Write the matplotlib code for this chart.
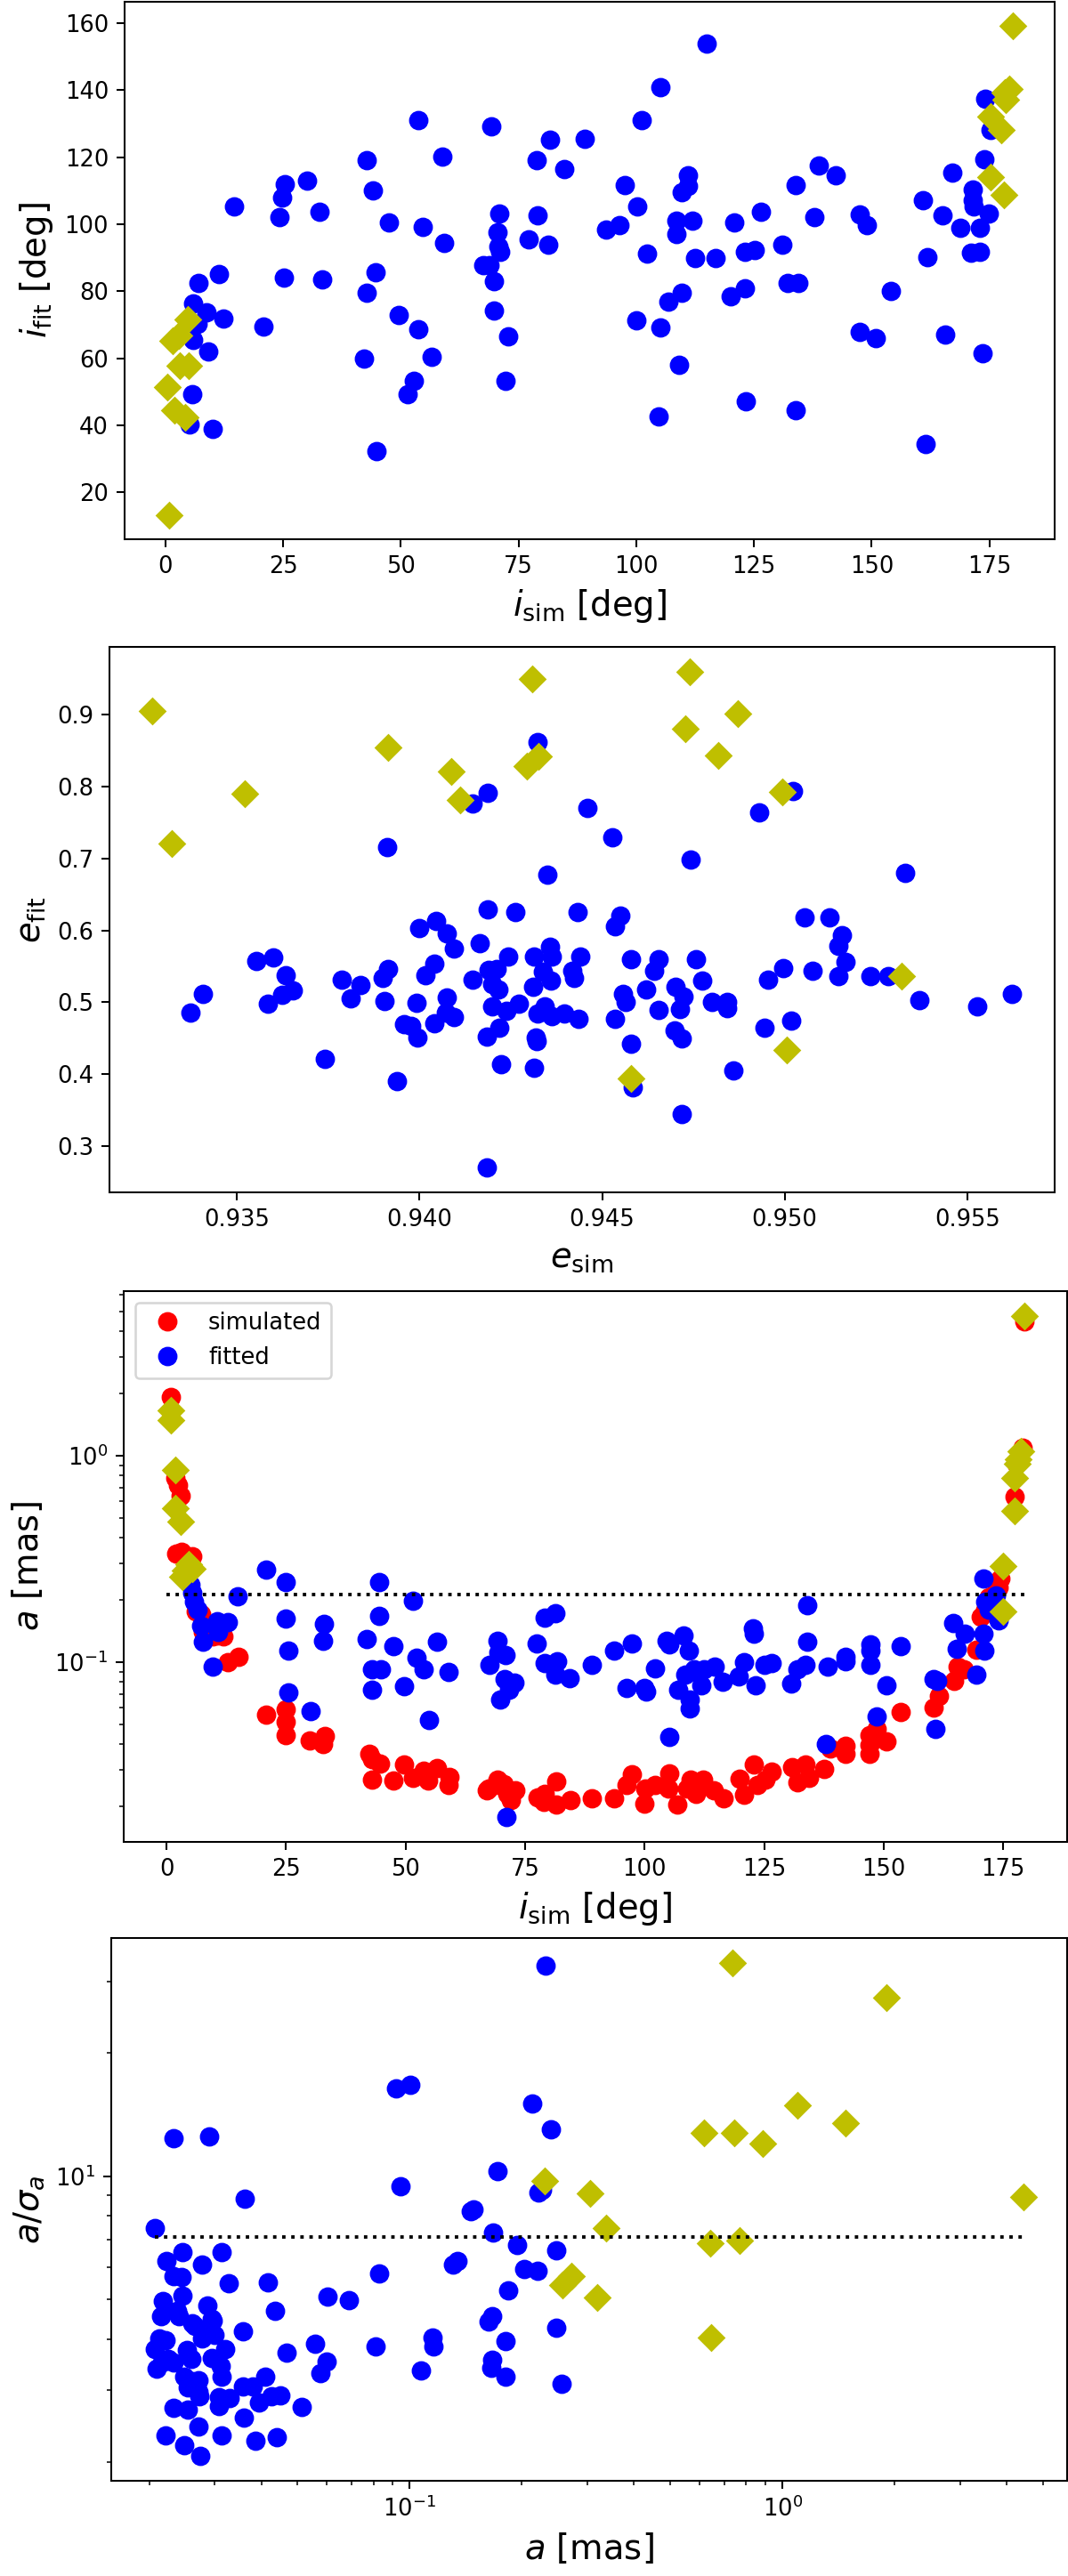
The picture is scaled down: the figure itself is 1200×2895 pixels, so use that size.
import numpy as np
import matplotlib.pyplot as plt

# ─── Panel 1: inclination, fitted vs simulated ─────────────────────────
inc_sim_ok = [114.9, 105.1, 174.1, 53.7, 101.1, 69.2, 81.7, 89.1, 175.2, 58.8,
              42.7, 78.8, 174.0, 84.7, 138.7, 142.4, 167.2, 111.0, 25.3, 30.0,
              97.5, 133.9, 111.0, 109.6, 171.5, 44.1, 24.8, 160.9, 171.4, 14.5,
              100.3, 32.8, 71.0, 126.5, 147.4, 174.9, 165.0, 24.2, 79.1, 137.9,
              47.4, 112.0, 108.5, 120.9, 148.9, 54.7, 96.5, 93.6, 168.9, 173.0,
              171.7, 70.5, 108.5, 59.1, 77.2, 81.3, 131.0, 70.8, 71.1, 102.2,
              123.1, 125.2, 171.2, 173.0, 112.5, 116.8, 161.9, 67.5, 68.9, 44.6,
              11.3, 25.1, 33.2, 7.0, 69.8, 132.1, 134.4, 123.1, 42.7, 109.6,
              154.0, 120.0, 106.8, 5.8, 8.7, 69.8, 6.8, 12.3, 49.6, 100.0,
              20.8, 105.1, 53.7, 72.8, 147.4, 150.8, 165.7, 5.9, 9.1, 173.6,
              42.1, 56.6, 109.1, 52.7, 72.3, 51.5, 5.7, 123.3, 133.9, 104.8,
              5.1, 10.0, 161.5, 44.8]
inc_fit_ok = [153.9, 141.0, 137.4, 131.2, 131.2, 129.3, 125.2, 125.6, 128.1, 120.1,
              119.0, 119.0, 119.4, 116.6, 117.5, 114.6, 115.5, 114.5, 112.0, 113.0,
              111.8, 111.8, 111.3, 109.5, 110.4, 110.2, 108.1, 107.3, 107.3, 105.2,
              105.2, 103.8, 103.1, 103.8, 103.0, 103.2, 102.7, 102.1, 102.7, 102.1,
              100.5, 101.0, 101.0, 100.5, 99.7, 99.2, 99.7, 98.4, 99.0, 99.0,
              105.2, 97.6, 97.0, 94.4, 95.4, 94.0, 93.9, 93.5, 91.8, 91.3,
              91.8, 92.4, 91.5, 91.8, 89.9, 89.9, 90.2, 87.9, 87.9, 85.7,
              85.2, 84.1, 83.6, 82.6, 83.0, 82.6, 82.6, 80.9, 79.5, 79.5,
              80.1, 78.6, 76.8, 76.3, 73.8, 74.3, 70.3, 71.8, 72.9, 71.3,
              69.4, 69.2, 68.7, 66.6, 67.8, 66.1, 67.2, 65.6, 62.0, 61.6,
              60.0, 60.4, 58.1, 53.4, 53.3, 49.2, 49.2, 47.2, 44.6, 42.6,
              40.3, 39.0, 34.4, 32.4]
inc_sim_bad = [179.9, 179.3, 178.3, 178.5, 175.2, 177.6, 175.2, 178.1,
               1.5, 2.9, 4.8, 3.0, 4.9, 0.3, 2.0, 4.2, 0.7]
inc_fit_bad = [159.1, 140.4, 139.2, 137.2, 132.1, 128.1, 114.0, 108.7,
               65.3, 66.9, 71.6, 57.7, 57.7, 51.3, 44.4, 42.4, 13.3]

# ─── Panel 2: eccentricity, fitted vs simulated ────────────────────────
ecc_sim_ok = [0.94323, 0.94187, 0.94144, 0.94460, 0.95023, 0.94929, 0.94527, 0.93910,
              0.94742, 0.94351, 0.95330, 0.94187, 0.94262, 0.94432, 0.94550, 0.94046,
              0.95055, 0.95124, 0.93998, 0.94535, 0.94074, 0.95158, 0.94164, 0.95148,
              0.94093, 0.94357, 0.94363, 0.94243, 0.94441, 0.94314, 0.94578, 0.94654,
              0.94757, 0.93552, 0.93599, 0.93914, 0.95167, 0.94997, 0.95077, 0.94211,
              0.94190, 0.94419, 0.94338, 0.94643, 0.94015, 0.94041, 0.93633, 0.95234,
              0.95283, 0.95148, 0.93900, 0.93786, 0.93839, 0.94144, 0.94424, 0.94954,
              0.94774, 0.94359, 0.94312, 0.94198, 0.94215, 0.94701, 0.94621, 0.93652,
              0.93407, 0.93624, 0.93811, 0.94722, 0.94557, 0.94074, 0.93904, 0.93992,
              0.93584, 0.94273, 0.94198, 0.94565, 0.94800, 0.94843, 0.95369, 0.95528,
              0.95622, 0.94342, 0.94843, 0.94714, 0.94654, 0.93373, 0.94237, 0.94396,
              0.94323, 0.94363, 0.94071, 0.94095, 0.94436, 0.94535, 0.95019, 0.94041,
              0.93957, 0.93977, 0.94218, 0.94944, 0.94699, 0.93994, 0.94183, 0.94718,
              0.94318, 0.94321, 0.94578, 0.93740, 0.94224, 0.94314, 0.94860, 0.93938,
              0.94583, 0.94718, 0.94185]
ecc_fit_ok = [0.862, 0.792, 0.777, 0.771, 0.794, 0.764, 0.730, 0.716,
              0.699, 0.677, 0.680, 0.629, 0.625, 0.625, 0.621, 0.613,
              0.618, 0.618, 0.603, 0.606, 0.596, 0.593, 0.582, 0.579,
              0.575, 0.577, 0.564, 0.563, 0.563, 0.563, 0.560, 0.560,
              0.560, 0.558, 0.562, 0.546, 0.556, 0.547, 0.544, 0.546,
              0.545, 0.544, 0.542, 0.544, 0.538, 0.554, 0.538, 0.536,
              0.536, 0.536, 0.534, 0.531, 0.524, 0.531, 0.534, 0.532,
              0.530, 0.530, 0.521, 0.525, 0.518, 0.522, 0.518, 0.517,
              0.512, 0.510, 0.505, 0.508, 0.511, 0.507, 0.502, 0.499,
              0.498, 0.498, 0.494, 0.501, 0.501, 0.501, 0.503, 0.494,
              0.511, 0.494, 0.492, 0.490, 0.489, 0.486, 0.488, 0.484,
              0.484, 0.481, 0.485, 0.479, 0.477, 0.477, 0.474, 0.471,
              0.470, 0.467, 0.464, 0.465, 0.461, 0.451, 0.452, 0.450,
              0.451, 0.446, 0.442, 0.421, 0.414, 0.409, 0.405, 0.390,
              0.381, 0.345, 0.270]
ecc_sim_bad = [0.93268, 0.93320, 0.93522, 0.93913, 0.94086, 0.94110, 0.94308, 0.94293,
               0.94325, 0.94740, 0.94727, 0.94871, 0.94819, 0.94993, 0.95006, 0.95320,
               0.94578]
ecc_fit_bad = [0.905, 0.721, 0.790, 0.854, 0.821, 0.781, 0.950, 0.829,
               0.842, 0.960, 0.881, 0.902, 0.843, 0.793, 0.434, 0.536,
               0.394]

# ─── Panel 3: semi-major axis vs simulated inclination ─────────────────
sim_inc = [0.9, 1.9, 2.3, 2.9, 2.1, 3.2, 5.4, 4.5, 6.2, 7.3, 7.6, 9.6, 10.5, 11.8, 12.8, 15.0,
           20.8, 25.0, 25.0, 24.9, 30.0, 32.8, 33.1, 42.4, 43.0, 44.7, 43.0, 47.4,
           49.7, 51.5, 53.7, 54.7, 56.6, 58.9, 59.1, 67.4, 67.0, 69.2, 69.6, 70.5,
           72.1, 72.9, 71.2, 77.6, 78.9, 79.1, 81.6, 81.6, 84.4, 88.9,
           93.7, 96.3, 97.3, 100.0, 100.1, 102.2, 105.2, 104.9, 106.8, 108.8,
           109.6, 110.8, 112.2, 114.5, 116.5, 119.9, 120.7, 122.9, 123.5, 125.2,
           126.6, 130.8, 132.0, 133.6, 134.3, 137.6, 138.9, 142.1, 142.1, 147.1,
           147.1, 147.1, 148.6, 150.6, 153.5, 160.5, 161.5, 164.7, 165.4, 166.7,
           169.4, 170.4, 171.3, 172.0, 174.1, 174.4, 173.5, 177.4, 177.8, 179.0,
           179.4]
sim_a = [1.92, 0.78, 0.72, 0.64, 0.337, 0.341, 0.326, 0.30, 0.176, 0.171, 0.140, 0.133,
         0.135, 0.133, 0.100, 0.106,
         0.0556, 0.0590, 0.0512, 0.0445, 0.0416, 0.0402, 0.0437, 0.0358, 0.0338, 0.0324,
         0.0270, 0.0266, 0.0319, 0.0275, 0.0299, 0.0266, 0.0308, 0.0253, 0.0279, 0.0244,
         0.0240, 0.0270, 0.0253, 0.0257, 0.0214, 0.0240, 0.0229, 0.0221, 0.0210, 0.0229,
         0.0265, 0.0204, 0.0214, 0.0220,
         0.0220, 0.0253, 0.0287, 0.0207, 0.0244, 0.0253, 0.0290, 0.0244, 0.0204, 0.0244,
         0.0270, 0.0229, 0.0270, 0.0240, 0.0218, 0.0272, 0.0227, 0.0319, 0.0253, 0.0270,
         0.0294, 0.0309, 0.0261, 0.0319, 0.0275, 0.0305, 0.0383, 0.0392, 0.0358, 0.0445,
         0.0358, 0.0396, 0.0475, 0.0412, 0.0574, 0.0600, 0.0684, 0.0809, 0.0955, 0.0923,
         0.1146, 0.165, 0.180, 0.206, 0.231, 0.253, 0.240, 0.633, 0.912, 1.096,
         4.49]

fit_inc = [5.0, 5.4, 5.7, 6.4, 7.2, 7.6, 9.6, 10.5, 10.7, 12.9, 14.8, 20.8, 24.9, 24.9,
           25.4, 25.4, 30.1, 33.0, 32.7, 41.9, 43.0, 43.0, 44.4, 44.4, 44.9, 47.4,
           49.7, 51.5, 52.3, 53.7, 54.8, 56.6, 58.9, 67.5, 69.2, 69.5, 69.8, 70.9,
           70.7, 71.7, 72.7, 71.1, 77.4, 79.1, 81.3, 79.1, 81.7, 81.4, 84.3, 88.9,
           93.6, 97.3, 96.3, 99.9, 100.3, 102.2, 104.6, 105.1, 105.1, 107.1, 108.2,
           109.2, 108.5, 109.4, 109.4, 110.4, 111.2, 111.8, 112.5, 114.7, 116.4,
           119.7, 120.7, 122.6, 122.8, 123.3, 125.0, 126.6, 130.7, 131.9, 133.7,
           134.0, 134.0, 137.9, 138.3, 142.0, 142.0, 147.2, 147.2, 147.2, 148.6,
           150.6, 153.5, 160.5, 161.2, 160.8, 164.5, 165.3, 167.0, 169.4, 170.9,
           171.3, 170.9, 171.0, 173.5, 174.1, 172.0]
fit_a = [0.236, 0.216, 0.197, 0.179, 0.150, 0.125, 0.0947, 0.158, 0.140, 0.156, 0.208,
         0.280, 0.244, 0.162, 0.114, 0.071, 0.0577, 0.153, 0.127, 0.130, 0.0925,
         0.0736, 0.244, 0.168, 0.0925, 0.120, 0.0763, 0.199, 0.105, 0.0925, 0.0522,
         0.125, 0.0896, 0.0969, 0.127, 0.111, 0.0656, 0.108, 0.0825, 0.0736, 0.0796,
         0.0178, 0.123, 0.164, 0.172, 0.0991, 0.101, 0.0871, 0.0832, 0.0969,
         0.114, 0.123, 0.0753, 0.0753, 0.0719, 0.0933, 0.127, 0.122, 0.0435, 0.0736,
         0.135, 0.114, 0.0871, 0.0656, 0.0599, 0.0925, 0.0885, 0.0770, 0.0925,
         0.0947, 0.0806, 0.0852, 0.100, 0.146, 0.137, 0.0770, 0.0969, 0.0991,
         0.0788, 0.0925, 0.0969, 0.188, 0.125, 0.0400, 0.0947, 0.106, 0.101,
         0.122, 0.114, 0.0969, 0.0547, 0.0770, 0.119, 0.0825, 0.0810, 0.0476,
         0.155, 0.116, 0.137, 0.0871, 0.253, 0.197, 0.137, 0.114, 0.211, 0.160,
         0.179]

flag_inc = [0.9, 0.9, 1.9, 1.9, 2.9, 3.3, 4.7, 3.9, 5.3,
            179.4, 178.7, 178.2, 178.0, 177.4, 177.4, 174.9, 174.9]
flag_a = [1.65, 1.48, 0.852, 0.557, 0.481, 0.259, 0.297, 0.277, 0.284,
          4.74, 1.05, 0.96, 0.913, 0.778, 0.539, 0.293, 0.176]

A_LIMIT = 0.213

# ─── Panel 4: significance a/sigma_a vs a ─────────────────────────────
a_ok = [0.0207, 0.0246, 0.0223, 0.0278, 0.0313, 0.0232, 0.0245, 0.0327, 0.0416, 0.0246,
        0.0218, 0.0287, 0.0295, 0.0215, 0.0240, 0.0266, 0.0284, 0.0300, 0.0277, 0.0357,
        0.0435, 0.0601, 0.0686, 0.0826, 0.1344, 0.1310, 0.1487, 0.1460, 0.167, 0.0221,
        0.0207, 0.0252, 0.0260, 0.0217, 0.0232, 0.0209, 0.0320, 0.0295, 0.0312, 0.0313,
        0.0249, 0.0271, 0.0254, 0.0273, 0.0357, 0.0379, 0.0410, 0.0395, 0.0425, 0.0450,
        0.0329, 0.0307, 0.0512, 0.0467, 0.0559, 0.0598, 0.0577, 0.081, 0.1149, 0.116,
        0.1074, 0.0232, 0.0254, 0.0271, 0.0360, 0.0221, 0.0249, 0.0275, 0.0313, 0.0385,
        0.0439, 0.163, 0.166, 0.0361, 0.0238, 0.0261, 0.0297, 0.0213, 0.0225, 0.0261,
        0.0271, 0.0308,
        0.2318, 0.0919, 0.1004, 0.213, 0.2387, 0.0232, 0.029, 0.172, 0.0943, 0.222,
        0.227, 0.194, 0.247, 0.2025, 0.2204, 0.1837, 0.1667, 0.247, 0.1806, 0.1667,
        0.1806, 0.2555]
snr_ok = [7.49, 6.53, 6.21, 6.09, 6.52, 5.69, 5.67, 5.48, 5.50, 5.10,
          4.95, 4.83, 4.48, 4.55, 4.55, 4.30, 4.23, 4.09, 4.02, 4.17,
          4.69, 5.08, 4.98, 5.78, 6.21, 6.08, 8.32, 8.20, 7.28, 3.98,
          3.79, 3.76, 3.57, 3.51, 3.51, 3.39, 3.79, 3.60, 3.43, 3.24,
          3.23, 3.18, 3.05, 2.90, 3.07, 3.07, 3.24, 2.80, 2.90, 2.92,
          2.87, 2.74, 2.73, 3.71, 3.90, 3.53, 3.31, 3.83, 4.04, 3.84,
          3.36, 2.71, 2.69, 2.45, 2.57, 2.33, 2.20, 2.07, 2.33, 2.26,
          2.30, 4.41, 3.40, 8.83, 4.68, 4.37, 4.44, 4.02, 3.58, 3.16,
          2.98, 2.88,
          32.7, 16.4, 16.7, 15.1, 13.0, 12.4, 12.5, 10.3, 9.47, 9.15,
          9.25, 6.81, 6.61, 5.94, 5.89, 5.25, 4.56, 4.27, 3.96, 3.56,
          3.24, 3.11]
a_bad = [0.7347, 1.90, 1.098, 1.475, 0.6177, 0.741, 0.885, 0.2308, 0.305, 4.44,
         0.336, 0.639, 0.766, 0.271, 0.2576, 0.3184, 0.6444]
snr_bad = [33.3, 27.3, 14.9, 13.5, 12.75, 12.75, 12.0, 9.74, 9.08, 8.91,
           7.47, 6.86, 6.97, 5.71, 5.43, 5.06, 4.03]

SNR_LIMIT = 7.1

# ─── Figure ────────────────────────────────────────────────────────────
DPI = 185
W, H = 1200, 2895
MS = 7.5
fig = plt.figure(figsize=(W / DPI, H / DPI), dpi=DPI)


def add_box(left, top, right, bottom):
    return fig.add_axes([left / W, 1 - bottom / H, (right - left) / W, (bottom - top) / H])


ax1 = add_box(140, 2, 1185, 606)
ax1.plot(inc_sim_ok, inc_fit_ok, "bo", ms=MS)
ax1.plot(inc_sim_bad, inc_fit_bad, "yD", ms=MS)
ax1.set_xlabel(r"$i_{\rm sim}$ [deg]", fontsize=15)
ax1.set_ylabel(r"$i_{\rm fit}$ [deg]", fontsize=15)

ax2 = add_box(123, 727, 1185, 1340)
ax2.plot(ecc_sim_ok, ecc_fit_ok, "bo", ms=MS)
ax2.plot(ecc_sim_bad, ecc_fit_bad, "yD", ms=MS)
ax2.set_xlabel(r"$e_{\rm sim}$", fontsize=15)
ax2.set_ylabel(r"$e_{\rm fit}$", fontsize=15)

ax3 = add_box(139, 1451, 1199, 2070)
ax3.plot(sim_inc, sim_a, "ro", ms=MS, label="simulated")
ax3.plot(fit_inc, fit_a, "bo", ms=MS, label="fitted")
ax3.plot(flag_inc, flag_a, "yD", ms=MS)
ax3.hlines(A_LIMIT, 0, max(sim_inc), colors="k", linestyles=":", lw=1.5)
ax3.set_yscale("log")
ax3.set_xlabel(r"$i_{\rm sim}$ [deg]", fontsize=15)
ax3.set_ylabel(r"$a$ [mas]", fontsize=15)
ax3.legend(loc="upper left", numpoints=1)

ax4 = add_box(125, 2178, 1199, 2788)
ax4.plot(a_ok, snr_ok, "bo", ms=MS)
ax4.plot(a_bad, snr_bad, "yD", ms=MS)
all_a = a_ok + a_bad
ax4.hlines(SNR_LIMIT, min(all_a), max(all_a), colors="k", linestyles=":", lw=1.5)
ax4.set_xscale("log")
ax4.set_yscale("log")
ax4.set_xlabel(r"$a$ [mas]", fontsize=15)
ax4.set_ylabel(r"$a/\sigma_a$", fontsize=15)

fig.savefig("out.png", dpi=DPI)
